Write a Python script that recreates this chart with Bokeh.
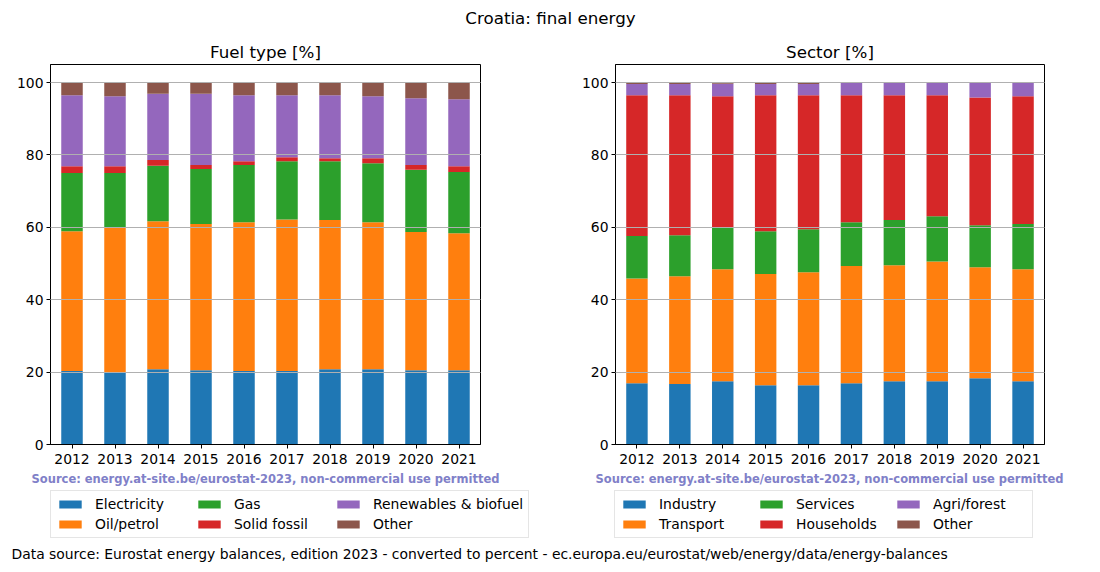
from bokeh.plotting import figure
from bokeh.layouts import column, row
from bokeh.models import (Range1d, FactorRange, Label, Legend, LegendItem,
                          ColumnDataSource, FixedTicker)
from bokeh.embed import file_html
from bokeh.resources import INLINE

FONT = "DejaVu Sans"
SMALL = "13.9px"
LARGE = "16.7px"

years = ["2012", "2013", "2014", "2015", "2016", "2017", "2018", "2019", "2020", "2021"]

# Fuel type [%]
electricity = [20.3, 20.0, 20.8, 20.5, 20.3, 20.3, 20.8, 20.8, 20.5, 20.5]
oil_petrol = [38.6, 39.9, 40.9, 40.4, 41.1, 41.9, 41.2, 40.6, 38.2, 37.9]
gas = [16.1, 15.1, 15.3, 15.2, 15.8, 16.1, 16.3, 16.3, 17.2, 16.9]
solid_fossil = [1.9, 1.9, 1.6, 1.1, 1.1, 1.1, 0.8, 1.4, 1.3, 1.6]
renewables = [19.6, 19.3, 18.3, 19.7, 18.2, 17.1, 17.4, 17.1, 18.5, 18.5]
other_fuel = [3.5, 3.8, 3.1, 3.1, 3.5, 3.5, 3.5, 3.8, 4.3, 4.6]

# Sector [%]
industry = [16.9, 16.7, 17.5, 16.4, 16.4, 16.9, 17.5, 17.5, 18.3, 17.5]
transport = [29.0, 29.8, 30.9, 30.7, 31.2, 32.4, 32.0, 33.1, 30.7, 30.9]
services = [11.7, 11.3, 11.5, 11.8, 11.9, 12.1, 12.5, 12.5, 11.6, 12.5]
households = [38.9, 38.7, 36.3, 37.6, 37.0, 35.1, 34.5, 33.4, 35.3, 35.3]
agri_forest = [3.1, 3.1, 3.5, 3.1, 3.1, 3.4, 3.4, 3.4, 4.0, 3.7]
other_sector = [0.4, 0.4, 0.3, 0.4, 0.4, 0.1, 0.1, 0.1, 0.1, 0.1]

fuel_labels = ["Electricity", "Oil/petrol", "Gas", "Solid fossil", "Renewables & biofuel", "Other"]
sector_labels = ["Industry", "Transport", "Services", "Households", "Agri/forest", "Other"]
colors = ["#1f77b4", "#ff7f0e", "#2ca02c", "#d62728", "#9467bd", "#8c564b"]
y_ticks = [0, 20, 40, 60, 80, 100]

main_title = "Croatia: final energy"
source_text = "Source: energy.at-site.be/eurostat-2023, non-commercial use permitted"
footer_text = ("Data source: Eurostat energy balances, edition 2023 - converted to percent - "
               "ec.europa.eu/eurostat/web/energy/data/energy-balances")


def make_panel(title, series, width, mbl, mbr):
    keys = ["s%d" % i for i in range(len(series))]
    data = dict(year=years)
    for k, s in zip(keys, series):
        data[k] = s
    src = ColumnDataSource(data)
    p = figure(width=width, height=432, x_range=FactorRange(*years),
               y_range=Range1d(0, 105), output_backend="svg", toolbar_location=None,
               min_border_left=mbl, min_border_right=mbr, min_border_top=28,
               min_border_bottom=24)
    p.title.text = title
    p.title.text_font = FONT
    p.title.text_font_size = LARGE
    p.title.text_font_style = "normal"
    p.title.text_color = "black"
    p.title.align = "center"
    p.title.standoff = 5
    p.vbar_stack(keys, x="year", width=0.5, source=src,
                 fill_color=colors, line_color=None)
    p.outline_line_color = "black"
    p.outline_line_alpha = 1
    p.outline_line_width = 1
    p.xgrid.visible = False
    p.ygrid.grid_line_color = "#b0b0b0"
    p.ygrid.grid_line_width = 1
    p.ygrid.level = "overlay"
    p.yaxis.ticker = FixedTicker(ticks=y_ticks)
    for ax in (p.xaxis[0], p.yaxis[0]):
        ax.axis_line_color = "black"
        ax.major_tick_in = 0
        ax.major_tick_out = 4
        ax.minor_tick_line_color = None
        ax.major_label_text_font = FONT
        ax.major_label_text_font_size = SMALL
        ax.major_label_text_color = "black"
        ax.major_label_standoff = 3
    p.xaxis[0].major_label_standoff = 5
    return p


def make_legend_strip(labels, width, leg_x, src_x, label_width):
    f = figure(width=width, height=76, x_range=Range1d(0, 1), y_range=Range1d(0, 1),
               output_backend="svg", toolbar_location=None,
               x_axis_location=None, y_axis_location=None, min_border=0)
    f.outline_line_color = None
    f.grid.visible = False
    items = []
    for lab, col in zip(labels, colors):
        # swatch-only renderer, kept outside the visible range of this strip
        r = f.vbar(x=[5], top=[6], bottom=[5], width=0.5, fill_color=col, line_color=None)
        items.append(LegendItem(label=lab, renderers=[r]))
    leg = Legend(items=items, orientation="vertical", nrows=2, location=(leg_x, 6),
                 margin=0, padding=5, spacing=4, label_standoff=11,
                 glyph_width=28, glyph_height=10, label_height=16,
                 label_width=label_width,
                 label_text_font=FONT, label_text_font_size=SMALL,
                 label_text_color="black",
                 border_line_color="#cccccc", border_line_width=1,
                 background_fill_color="white", background_fill_alpha=0.8)
    f.add_layout(leg, "center")
    f.add_layout(Label(x=src_x, y=66, x_units="screen", y_units="screen", text=source_text,
                       text_font=FONT, text_font_size="11.5px", text_font_style="bold",
                       text_color="#8080c8", text_align="center", text_baseline="middle"))
    return f


def text_strip(height, text, x, y, size, align):
    f = figure(width=1100, height=height, x_range=Range1d(0, 1), y_range=Range1d(0, 1),
               output_backend="svg", toolbar_location=None,
               x_axis_location=None, y_axis_location=None, min_border=0)
    f.outline_line_color = None
    f.grid.visible = False
    f.add_layout(Label(x=x, y=y, x_units="screen", y_units="screen", text=text,
                       text_font=FONT, text_font_size=size, text_align=align,
                       text_baseline="middle", text_color="black"))
    return f


p1 = make_panel("Fuel type [%]", [electricity, oil_petrol, gas, solid_fossil, renewables, other_fuel],
                548, 50, 68)
p2 = make_panel("Sector [%]", [industry, transport, services, households, agri_forest, other_sector],
                552, 67, 56)
l1 = make_legend_strip(fuel_labels, 548, 50, 265, 96)
l2 = make_legend_strip(sector_labels, 552, 66, 281, 94)

top = text_strip(36, main_title, 550, 19, LARGE, "center")
bottom = text_strip(20, footer_text, 11, 11, SMALL, "left")

layout = column(top, row(p1, p2), row(l1, l2), bottom)
open("out.html", "w").write(file_html(layout, INLINE))
